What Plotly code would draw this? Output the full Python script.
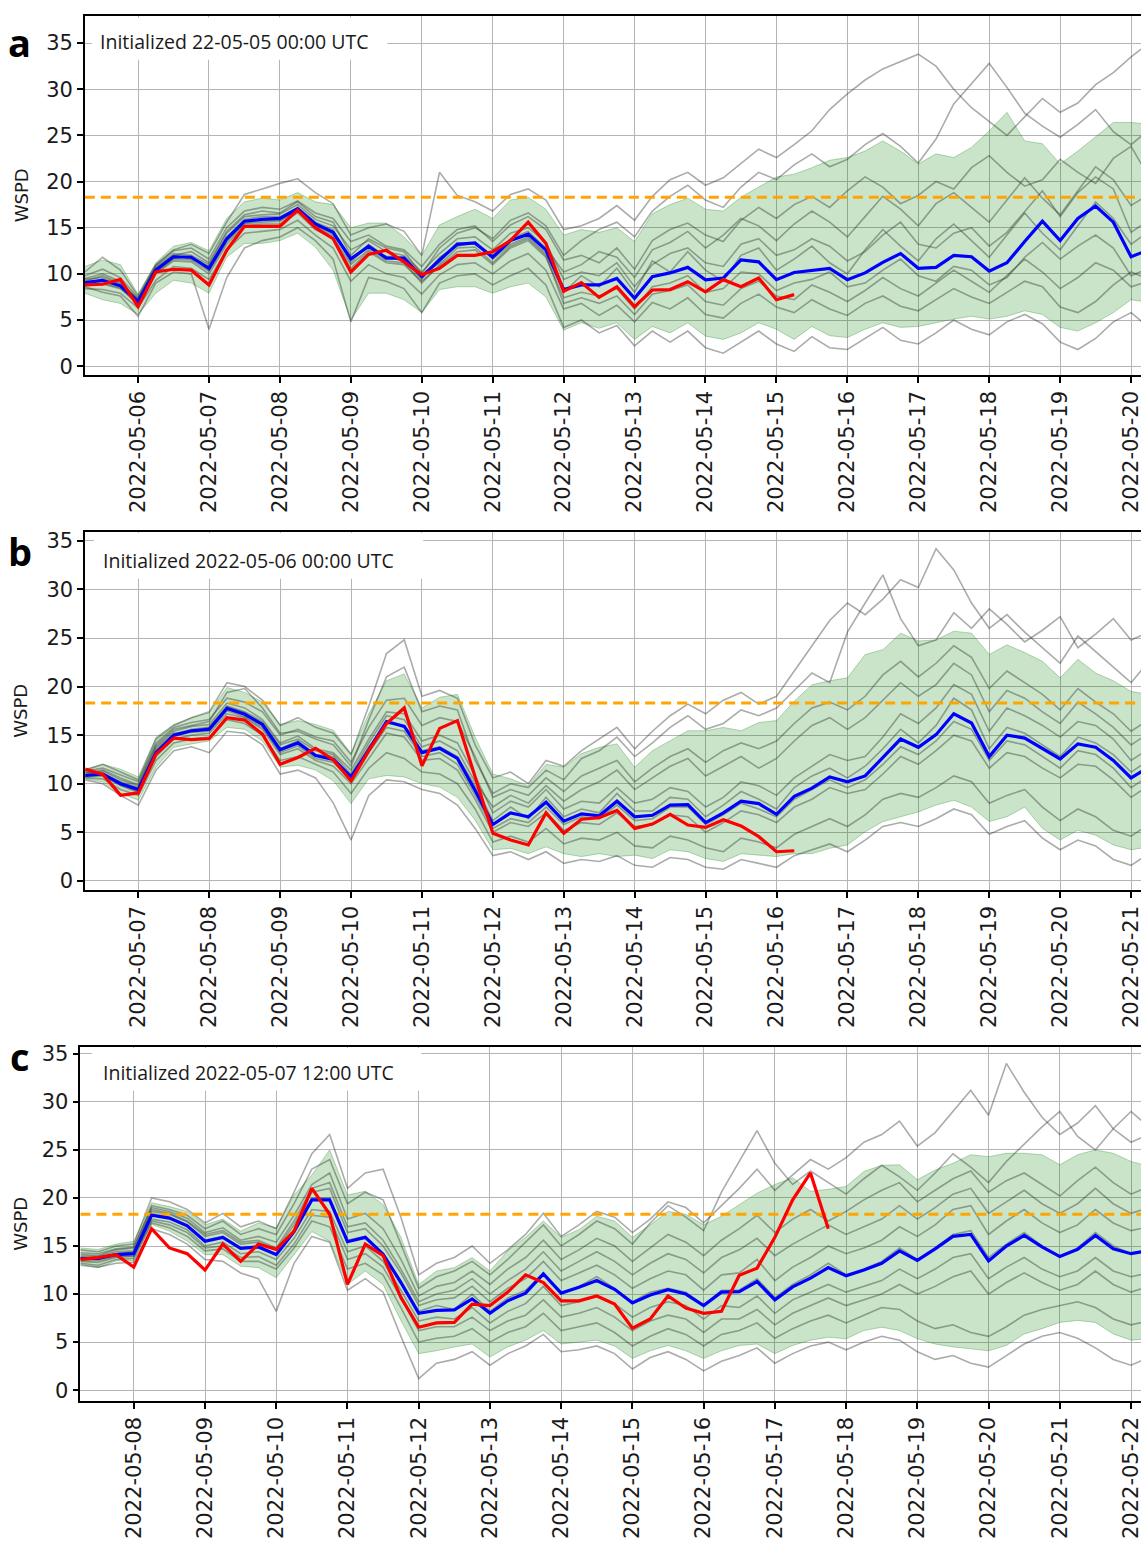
import pandas as pd
import plotly.graph_objects as go

# ---------------- data ----------------
THRESHOLD = 18.3
STEP = "6h"

# ---- panel a : initialized 2022-05-05 00 UTC, series start 05-05 06 UTC
A_START = "2022-05-05 06:00"
A_LABEL = "Initialized 22-05-05 00:00 UTC"
A_MEAN = [9.05, 9.3, 8.7, 7.0, 10.4, 11.85, 11.8, 10.6, 13.8, 15.7, 15.9, 16.0, 17.05, 15.4, 14.5, 11.6, 13.0, 11.7, 11.7, 9.7,
          11.5, 13.2, 13.35, 11.8, 13.6, 14.3, 12.6, 8.3, 8.8, 8.8, 9.5, 7.35, 9.7, 10.1, 10.7, 9.35, 9.55, 11.5, 11.3, 9.37,
          10.15, 10.4, 10.6, 9.37, 10.1, 11.25, 12.2, 10.6, 10.7, 12.0, 11.85, 10.3, 11.2, 13.5, 15.7, 13.6, 16.0, 17.35, 15.6, 11.85, 12.6]
A_OBS = [8.8, 8.87, 9.4, 6.45, 10.2, 10.5, 10.4, 8.8, 12.55, 15.15, 15.15, 15.15, 16.9, 15.0, 13.8, 10.2, 12.1, 12.55, 11.3, 9.9,
         10.6, 12.0, 12.0, 12.4, 13.6, 15.6, 13.3, 8.1, 9.05, 7.45, 8.6, 6.45, 8.25, 8.3, 9.15, 8.05, 9.37, 8.6, 9.55, 7.2, 7.75]
A_HI = [10.8, 11.5, 11.0, 7.8, 11.2, 13.0, 13.4, 12.5, 16.0, 17.8, 18.2, 18.0, 18.8, 17.8, 17.5, 15.0, 15.5, 15.5, 14.0, 12.0,
        15.3, 16.2, 17.0, 16.0, 18.0, 18.3, 17.0, 14.2, 14.8, 14.5, 15.0, 13.5, 16.5, 17.5, 18.2, 17.0, 16.8, 18.3, 19.4, 20.5,
        20.8, 21.5, 22.3, 22.6, 23.3, 24.4, 23.3, 21.9, 23.0, 22.6, 23.7, 25.5, 27.5, 24.4, 24.1, 21.9, 23.3, 24.8, 26.4, 26.4, 26.2]
A_LO = [7.9, 7.2, 6.8, 5.6, 7.9, 9.3, 9.0, 7.9, 11.8, 13.3, 13.3, 13.6, 14.4, 12.9, 10.4, 5.0, 7.9, 7.9, 7.2, 5.8,
        8.3, 8.6, 8.6, 7.9, 8.6, 9.0, 7.5, 3.9, 4.7, 4.1, 4.7, 2.9, 4.3, 3.6, 4.7, 3.25, 2.9, 3.6, 4.7, 4.0,
        2.9, 4.3, 3.3, 3.1, 4.0, 4.7, 4.2, 4.3, 4.7, 5.1, 5.4, 5.1, 5.4, 6.0, 5.6, 4.2, 3.8, 4.7, 5.8, 7.2, 6.9]
A_MEMBERS = [
    [9.8, 10.5, 9.6, 7.4, 10.9, 12.5, 12.8, 11.6, 15.0, 16.8, 17.2, 17.0, 17.9, 16.6, 16.0, 13.5, 14.2, 13.0, 12.6, 10.8, 13.2, 14.8, 15.2, 13.5, 15.3, 16.2, 14.8,
     11.5, 12.0, 11.2, 12.8, 10.5, 13.6, 14.8, 15.5, 14.2, 13.5, 15.8, 17.2, 16.0, 17.5, 18.4, 17.2, 19.0, 20.5, 19.4, 17.6, 18.5, 20.0, 19.2, 21.5, 22.8, 21.0, 19.5, 20.2, 22.4, 21.0, 19.8, 22.5, 23.8, 20.5],
    [8.4, 8.3, 7.9, 6.3, 9.3, 10.8, 10.6, 9.4, 12.6, 14.4, 14.6, 14.8, 15.8, 14.2, 12.8, 9.2, 11.0, 10.0, 9.6, 7.8, 9.9, 11.0, 11.2, 10.0, 11.4, 12.2, 10.4,
     6.2, 6.8, 5.5, 6.6, 4.8, 6.9, 6.2, 7.4, 5.6, 5.2, 6.8, 7.8, 6.4, 5.8, 7.2, 6.2, 5.5, 6.8, 7.6, 6.5, 6.0, 7.2, 8.4, 7.5, 6.8, 8.0, 9.2, 8.6, 6.4, 5.8, 7.0, 8.8, 10.2, 9.4],
    [9.5, 10.0, 9.2, 7.2, 10.8, 12.2, 12.0, 11.0, 14.4, 16.2, 16.4, 16.5, 17.5, 15.9, 15.2, 12.6, 13.6, 12.4, 12.0, 10.2, 12.2, 13.8, 14.0, 12.6, 14.4, 15.0, 13.4,
     9.4, 10.2, 9.8, 11.2, 8.6, 11.0, 12.2, 12.8, 11.2, 10.8, 13.2, 13.8, 12.0, 12.6, 13.8, 13.0, 11.4, 12.4, 14.2, 15.6, 13.2, 12.8, 14.4, 15.0, 13.0, 14.5, 16.8, 19.0, 16.2, 18.8, 20.5, 19.2, 14.5, 15.8],
    [8.8, 8.9, 8.4, 6.7, 10.0, 11.4, 11.3, 10.0, 13.2, 15.2, 15.4, 15.4, 16.6, 14.8, 13.8, 10.6, 12.4, 11.2, 11.0, 9.2, 10.8, 12.4, 12.6, 11.0, 12.8, 13.6, 11.8,
     7.4, 8.0, 7.6, 8.4, 6.2, 8.6, 9.0, 9.8, 8.0, 8.4, 10.2, 10.0, 8.2, 9.0, 9.4, 10.2, 8.6, 9.0, 10.4, 11.6, 9.8, 9.2, 10.8, 10.4, 8.8, 9.6, 11.8, 13.4, 11.6, 13.0, 14.2, 12.8, 9.8, 10.6],
    [10.2, 11.8, 10.4, 7.6, 11.0, 12.6, 13.2, 12.2, 15.6, 18.6, 19.2, 19.8, 20.3, 18.8, 17.6, 14.2, 15.0, 15.4, 14.6, 12.0, 21.0, 18.5, 17.8, 16.8, 18.6, 19.2, 18.0,
     14.8, 15.2, 16.0, 17.4, 15.8, 18.4, 20.2, 21.0, 19.6, 20.4, 22.0, 23.5, 22.6, 24.0, 25.5, 27.8, 29.5, 31.0, 32.2, 33.0, 33.8, 32.5, 30.0, 28.0, 26.5, 25.0, 27.0, 29.0, 27.5, 28.5, 30.5, 31.8, 33.5, 35.0],
    [9.2, 9.8, 9.0, 7.3, 10.6, 12.0, 12.4, 11.2, 14.6, 16.4, 16.8, 16.6, 17.8, 16.2, 15.6, 12.0, 13.8, 12.8, 12.4, 10.0, 12.8, 14.4, 15.0, 13.8, 15.8, 16.6, 15.2,
     12.0, 13.6, 14.8, 15.6, 14.0, 16.8, 18.4, 19.6, 18.0, 17.2, 19.4, 21.0, 20.2, 21.8, 23.0, 21.6, 22.4, 24.0, 25.2, 23.8, 22.0, 24.6, 28.4, 30.6, 32.8, 30.2, 27.4, 26.0, 24.8, 26.2, 27.8, 25.4, 24.0, 25.6],
    [8.6, 8.0, 7.6, 5.4, 9.0, 10.2, 10.0, 4.0, 9.6, 12.8, 13.6, 14.0, 15.0, 13.6, 11.6, 4.8, 9.6, 9.2, 8.4, 5.8, 9.0, 9.8, 10.0, 8.8, 9.8, 10.6, 8.8,
     4.2, 5.0, 3.6, 4.4, 2.2, 3.8, 2.6, 3.8, 2.0, 1.4, 2.6, 3.8, 2.4, 1.6, 3.2, 2.0, 1.8, 3.0, 4.2, 2.8, 2.4, 3.6, 5.0, 4.0, 3.4, 4.8, 5.6, 4.6, 2.6, 1.8, 3.0, 4.8, 5.8, 4.2],
    [9.4, 9.6, 8.9, 7.1, 10.6, 12.0, 11.6, 10.8, 14.0, 15.9, 16.2, 16.2, 17.2, 15.6, 14.8, 11.2, 13.2, 11.8, 11.4, 9.4, 11.8, 13.0, 13.4, 11.6, 13.2, 14.0, 12.2,
     8.0, 9.8, 8.6, 10.6, 8.0, 11.4, 10.2, 12.4, 10.4, 9.2, 12.0, 12.8, 10.4, 11.6, 13.0, 11.2, 10.0, 12.6, 14.8, 13.0, 11.4, 13.8, 15.4, 13.6, 11.8, 14.2, 16.6, 14.4, 12.6, 15.2, 17.8, 16.0, 13.2, 14.6],
    [9.0, 9.4, 8.6, 6.9, 10.3, 11.7, 11.9, 10.4, 13.6, 15.5, 15.8, 15.8, 16.9, 15.2, 14.2, 11.8, 12.8, 11.9, 11.8, 9.8, 11.2, 13.4, 13.2, 12.0, 13.8, 14.6, 12.8,
     10.2, 11.0, 12.4, 11.8, 9.6, 12.6, 13.4, 14.6, 12.8, 14.2, 16.0, 15.2, 13.6, 15.4, 16.8, 15.6, 14.0, 16.2, 18.4, 17.0, 15.2, 17.6, 18.8, 17.2, 15.6, 18.0, 20.4, 18.2, 16.4, 19.0, 21.6, 20.2, 17.4, 18.6],
    [8.9, 9.0, 8.5, 6.8, 10.1, 11.6, 11.5, 10.3, 13.5, 15.4, 15.6, 15.7, 16.8, 15.0, 14.0, 11.0, 12.6, 11.4, 11.2, 9.0, 11.0, 12.8, 12.9, 11.2, 13.0, 13.8, 12.0,
     6.8, 7.4, 6.8, 7.6, 5.6, 7.8, 8.2, 8.8, 7.0, 6.6, 8.4, 9.2, 7.6, 7.2, 8.8, 8.0, 7.0, 8.2, 9.6, 8.4, 7.6, 9.0, 10.4, 9.2, 8.0, 9.8, 11.6, 10.2, 8.4, 9.6, 11.2, 10.4, 8.6, 9.2],
]

# ---- panel b : initialized 2022-05-06 00 UTC
B_START = "2022-05-06 06:00"
B_LABEL = "Initialized 2022-05-06 00:00 UTC"
B_MEAN = [10.85, 11.0, 10.0, 9.4, 13.2, 15.0, 15.45, 15.6, 17.75, 17.15, 16.1, 13.5, 14.2, 12.9, 12.5, 10.7, 13.5, 16.4, 15.9, 13.2,
          13.65, 12.6, 9.3, 5.8, 7.0, 6.6, 8.1, 6.15, 6.9, 6.7, 8.2, 6.6, 6.75, 7.8, 7.85, 6.0, 7.0, 8.2, 7.95, 6.85,
          8.7, 9.55, 10.7, 10.2, 10.8, 12.65, 14.6, 13.75, 15.05, 17.2, 16.25, 12.8, 15.0, 14.7, 13.6, 12.55, 14.1, 13.75, 12.4, 10.6, 11.7]
B_OBS = [11.5, 10.95, 8.8, 9.05, 13.05, 14.7, 14.55, 14.65, 16.8, 16.55, 15.1, 12.0, 12.7, 13.65, 12.45, 10.3, 13.4, 16.2, 17.8, 11.85,
         15.7, 16.5, 10.7, 4.9, 4.2, 3.7, 7.0, 4.9, 6.35, 6.5, 7.25, 5.4, 5.85, 6.85, 5.75, 5.5, 6.3, 5.65, 4.55, 3.0, 3.1]
B_HI = [11.5, 12.0, 11.5, 10.7, 14.8, 16.1, 16.8, 17.3, 19.9, 19.4, 18.4, 16.1, 16.5, 16.1, 15.5, 13.1, 17.2, 20.6, 21.3, 17.8,
        18.9, 19.2, 14.8, 11.0, 10.5, 9.8, 12.0, 11.7, 13.1, 13.75, 14.1, 11.7, 13.4, 14.4, 15.45, 15.45, 15.8, 15.45, 16.3, 16.5,
        18.5, 20.2, 20.6, 20.9, 23.3, 23.8, 25.5, 24.7, 24.8, 25.7, 25.5, 23.3, 24.3, 23.5, 22.6, 20.9, 22.8, 21.4, 20.6, 19.5, 19.2]
B_LO = [10.5, 10.2, 9.0, 8.3, 11.7, 13.75, 14.1, 14.4, 15.8, 15.6, 14.4, 11.7, 11.9, 11.4, 10.3, 7.95, 10.5, 10.85, 10.7, 10.0,
        9.65, 8.6, 6.25, 3.2, 3.35, 2.8, 3.5, 2.8, 2.5, 2.8, 2.5, 2.65, 2.3, 3.2, 3.0, 2.3, 2.0, 2.8, 2.65, 2.5,
        2.8, 2.8, 3.35, 3.7, 5.05, 6.1, 6.6, 7.1, 7.8, 8.3, 7.6, 6.1, 6.6, 7.6, 5.4, 4.2, 5.2, 4.7, 3.7, 3.2, 3.5]
B_MEMBERS = [
    [11.3, 11.6, 10.9, 10.2, 14.2, 15.8, 16.3, 16.6, 18.8, 18.4, 17.4, 15.0, 15.6, 14.8, 14.4, 12.2, 15.8, 18.6, 18.8, 16.0, 16.8, 16.4, 12.8,
     8.6, 9.4, 8.8, 10.6, 9.2, 10.8, 11.6, 12.4, 10.2, 11.6, 12.8, 13.6, 12.2, 13.4, 14.2, 13.6, 14.4, 16.2, 17.8, 18.4, 17.6, 19.0, 21.2, 22.6, 21.0, 22.4, 24.2, 23.0, 19.8, 21.6, 20.4, 19.2, 17.6, 19.8, 18.4, 17.2, 15.4, 16.6],
    [10.6, 10.5, 9.4, 8.8, 12.4, 14.2, 14.6, 14.8, 16.6, 16.2, 15.0, 12.4, 12.8, 12.0, 11.2, 9.0, 11.6, 13.2, 12.6, 11.2, 11.0, 10.0, 7.4,
     4.0, 4.6, 4.0, 5.4, 3.8, 4.4, 4.2, 5.0, 3.6, 3.4, 4.6, 4.2, 3.4, 3.0, 4.4, 4.0, 3.4, 4.8, 5.6, 6.4, 5.6, 6.8, 8.4, 9.0, 8.6, 9.6, 10.8, 10.2, 8.0, 8.8, 9.4, 7.6, 6.2, 7.4, 6.6, 5.2, 4.6, 5.8],
    [11.0, 11.3, 10.4, 9.8, 13.8, 15.4, 15.9, 16.1, 18.3, 17.8, 16.6, 14.2, 14.9, 13.6, 13.2, 11.4, 14.6, 17.4, 17.2, 14.4, 15.0, 14.2, 10.8,
     7.0, 8.2, 7.6, 9.4, 7.4, 8.2, 8.0, 9.6, 8.0, 8.4, 9.6, 9.2, 7.6, 8.6, 10.2, 9.8, 8.8, 10.6, 11.8, 13.0, 12.4, 12.8, 14.8, 17.2, 16.2, 17.8, 20.2, 19.2, 15.4, 17.8, 17.0, 16.0, 14.8, 16.4, 16.0, 14.6, 12.4, 13.6],
    [10.7, 10.8, 9.8, 9.1, 12.8, 14.6, 15.0, 15.2, 17.2, 16.8, 15.6, 13.0, 13.6, 12.4, 11.8, 10.0, 12.6, 15.2, 14.8, 12.4, 12.6, 11.4, 8.4,
     5.0, 6.0, 5.6, 7.0, 5.2, 6.0, 5.8, 7.0, 5.6, 5.8, 6.8, 6.6, 5.0, 6.0, 7.2, 6.8, 6.0, 7.6, 8.4, 9.6, 9.0, 9.4, 11.0, 12.8, 12.0, 13.4, 15.0, 14.4, 11.6, 13.2, 12.8, 11.6, 10.6, 12.0, 11.8, 10.4, 8.6, 9.8],
    [11.4, 12.0, 11.2, 10.4, 14.6, 16.0, 16.8, 17.4, 20.4, 20.0, 18.6, 16.0, 16.8, 15.8, 15.2, 13.0, 18.0, 23.4, 24.8, 19.0, 19.6, 18.8, 14.0,
     10.6, 11.2, 10.0, 12.4, 11.8, 13.4, 14.6, 15.8, 13.6, 15.4, 17.0, 18.2, 17.2, 18.6, 19.4, 18.2, 19.0, 21.6, 24.2, 26.8, 28.6, 27.4, 29.0, 31.0, 30.2, 34.2, 32.0, 28.6, 26.0, 27.4, 25.6, 24.0, 22.4, 25.2, 23.6, 22.0, 20.4, 22.6],
    [11.1, 11.4, 10.6, 9.9, 14.0, 15.6, 16.0, 16.4, 19.4, 19.8, 17.8, 15.2, 15.4, 14.6, 14.0, 11.8, 16.6, 21.0, 22.0, 17.4, 18.0, 17.6, 12.4,
     9.0, 10.0, 9.6, 11.4, 10.4, 12.6, 13.4, 14.8, 12.8, 14.2, 15.8, 17.0, 15.6, 16.2, 17.6, 17.0, 17.8, 19.6, 21.4, 20.4, 25.6, 28.6, 31.5, 27.0, 24.2, 24.8, 27.6, 26.0, 28.0, 26.4, 24.6, 25.8, 27.2, 24.0, 25.4, 27.0, 24.8, 25.6],
    [10.4, 10.0, 8.8, 7.8, 11.4, 13.4, 13.8, 13.2, 15.4, 15.2, 14.0, 11.0, 11.4, 10.6, 8.0, 4.2, 8.8, 10.4, 10.2, 9.4, 9.0, 7.8, 5.4,
     2.6, 3.0, 2.2, 3.0, 1.8, 2.2, 2.0, 2.6, 1.6, 1.4, 2.4, 2.2, 1.4, 1.2, 2.2, 1.8, 1.4, 2.6, 3.2, 3.8, 3.0, 4.2, 5.6, 6.0, 5.6, 6.4, 7.4, 6.8, 4.8, 5.6, 6.2, 4.4, 3.2, 4.2, 3.6, 2.2, 1.6, 2.8],
    [10.9, 11.1, 10.1, 9.5, 13.4, 15.1, 15.6, 15.8, 17.9, 17.3, 16.2, 13.6, 14.4, 13.0, 12.8, 10.6, 13.8, 16.2, 16.0, 13.4, 13.8, 12.8, 9.8,
     6.2, 7.6, 6.4, 8.6, 6.6, 7.4, 7.0, 9.0, 7.2, 7.2, 8.6, 8.4, 6.6, 7.8, 9.2, 8.4, 7.4, 9.6, 10.8, 11.6, 10.6, 11.8, 13.6, 15.6, 14.2, 16.0, 18.8, 17.6, 13.6, 15.8, 15.2, 14.0, 12.8, 14.8, 14.2, 13.0, 11.2, 12.4],
    [11.2, 11.0, 10.2, 9.6, 13.6, 15.2, 15.4, 15.8, 18.0, 17.4, 16.4, 14.0, 14.6, 13.4, 13.0, 11.0, 14.2, 17.0, 16.6, 13.8, 14.4, 13.4, 10.2,
     7.6, 8.8, 8.0, 9.8, 8.2, 9.4, 10.2, 11.4, 9.4, 10.6, 11.8, 12.6, 10.8, 11.8, 12.8, 11.6, 12.6, 14.4, 16.0, 16.8, 15.6, 16.8, 18.6, 20.4, 19.0, 20.2, 22.4, 21.2, 17.4, 19.6, 18.8, 17.4, 16.2, 18.4, 17.2, 15.8, 14.0, 15.2],
    [10.8, 10.9, 9.9, 9.2, 13.0, 14.9, 15.3, 15.4, 17.5, 16.9, 15.8, 13.2, 13.9, 12.6, 12.2, 10.4, 13.2, 15.8, 15.4, 12.8, 13.2, 12.0, 8.8,
     5.4, 6.4, 6.0, 7.6, 5.8, 6.6, 6.4, 7.8, 6.2, 6.4, 7.6, 7.6, 5.8, 6.8, 8.0, 7.4, 6.6, 8.4, 9.4, 10.4, 9.6, 10.4, 12.0, 13.8, 13.0, 14.4, 16.4, 15.6, 12.4, 14.4, 14.0, 12.8, 11.6, 13.4, 13.0, 11.6, 9.6, 10.8],
]

# ---- panel c : initialized 2022-05-07 12 UTC
C_START = "2022-05-07 06:00"
C_LABEL = "Initialized 2022-05-07 12:00 UTC"
C_MEAN = [13.7, 13.7, 14.1, 14.2, 18.2, 17.9, 17.1, 15.5, 15.9, 14.75, 14.9, 14.1, 16.5, 19.8, 19.8, 15.45, 15.9, 14.15, 11.2, 8.0,
          8.3, 8.35, 9.5, 8.0, 9.3, 10.1, 12.1, 10.1, 10.7, 11.4, 10.5, 9.07, 9.9, 10.45, 10.0, 8.8, 10.2, 10.25, 11.3, 9.4,
          10.75, 11.65, 12.75, 11.9, 12.5, 13.2, 14.5, 13.5, 14.7, 16.0, 16.2, 13.45, 15.0, 16.1, 14.9, 13.9, 14.65, 16.1, 14.7, 14.2, 14.55]
C_OBS = [13.6, 13.8, 14.1, 12.8, 16.8, 14.8, 14.2, 12.5, 15.2, 13.4, 15.2, 14.65, 16.55, 21.0, 18.3, 11.0, 15.2, 14.0, 9.65, 6.55,
         7.0, 7.05, 8.95, 8.8, 10.2, 12.0, 11.2, 9.3, 9.3, 9.8, 8.95, 6.45, 7.4, 9.8, 8.55, 8.0, 8.2, 11.95, 12.7, 15.9,
         19.8, 22.6, 16.8]
C_HI = [14.8, 14.65, 15.2, 15.5, 19.5, 19.1, 18.6, 17.2, 17.8, 16.55, 17.4, 16.9, 20.3, 22.4, 25.0, 20.3, 20.7, 19.3, 15.9, 11.0,
        12.4, 12.75, 13.8, 12.4, 14.5, 15.9, 17.6, 15.9, 16.7, 18.1, 17.6, 15.9, 17.2, 18.6, 18.3, 17.2, 18.1, 19.3, 20.5, 21.4,
        22.1, 20.7, 20.9, 21.2, 22.75, 23.4, 23.45, 21.9, 22.9, 23.6, 24.5, 24.3, 24.65, 24.65, 24.5, 23.45, 24.5, 25.0, 24.65, 23.8, 23.3]
C_LO = [13.1, 12.75, 13.45, 13.45, 17.25, 16.55, 15.5, 14.1, 14.1, 12.9, 12.75, 11.7, 14.1, 16.5, 15.5, 11.0, 12.4, 11.0, 7.25, 3.8,
        4.1, 4.5, 4.8, 3.45, 4.5, 5.2, 6.2, 4.8, 5.0, 5.2, 4.6, 3.3, 4.1, 4.65, 4.1, 3.3, 4.1, 4.65, 4.8, 3.8,
        4.65, 5.2, 5.5, 5.35, 6.2, 6.55, 6.2, 5.35, 4.8, 4.5, 4.3, 4.1, 4.65, 5.85, 6.4, 7.05, 7.25, 7.05, 5.85, 5.2, 5.35]
C_MEMBERS = [
    [14.3, 14.2, 14.7, 14.9, 19.0, 18.6, 17.9, 16.4, 16.9, 15.6, 16.0, 15.4, 18.2, 21.4, 22.6, 17.8, 18.4, 16.8, 13.6,
     9.8, 10.8, 11.2, 12.4, 11.0, 12.6, 13.8, 15.6, 13.6, 14.6, 15.8, 15.0, 13.4, 14.8, 16.2, 15.4, 14.0, 15.6, 16.8, 18.2, 16.4, 17.8, 18.8, 17.6, 18.6, 19.8, 20.8, 21.6, 19.6, 20.8, 22.0, 22.8, 20.6, 21.8, 22.6, 21.4, 20.2, 21.8, 23.2, 21.6, 20.4, 21.2],
    [13.2, 13.0, 13.6, 13.7, 17.4, 16.9, 16.0, 14.5, 14.7, 13.4, 13.4, 12.6, 14.8, 17.6, 17.0, 12.6, 13.2, 12.0, 8.6,
     5.0, 5.4, 5.6, 6.4, 5.0, 6.0, 6.6, 8.0, 6.2, 6.6, 7.0, 6.0, 4.6, 5.6, 6.4, 5.8, 4.6, 5.8, 6.2, 7.0, 5.4, 6.4, 7.2, 7.8, 7.0, 7.8, 8.6, 8.4, 7.2, 6.4, 6.8, 6.0, 5.6, 6.6, 7.8, 8.4, 8.8, 9.2, 8.6, 7.4, 6.8, 7.2],
    [13.9, 13.9, 14.4, 14.5, 18.6, 18.3, 17.5, 16.0, 16.4, 15.2, 15.4, 14.6, 17.2, 20.6, 21.0, 16.4, 16.8, 15.0, 12.2,
     8.8, 9.4, 9.6, 10.8, 9.2, 10.6, 11.6, 13.4, 11.4, 12.2, 13.0, 12.0, 10.6, 11.6, 12.4, 12.0, 10.4, 12.0, 12.2, 13.6, 11.4, 12.8, 13.8, 15.0, 14.2, 14.8, 15.6, 17.0, 16.0, 17.2, 18.8, 19.2, 16.2, 17.6, 18.8, 17.4, 16.4, 17.2, 18.8, 17.4, 16.6, 17.0],
    [13.5, 13.5, 13.9, 14.0, 17.8, 17.5, 16.7, 15.0, 15.4, 14.2, 14.4, 13.6, 15.8, 18.8, 18.6, 14.4, 15.0, 13.4, 10.4,
     7.2, 7.6, 7.4, 8.6, 7.0, 8.2, 9.0, 10.8, 8.8, 9.2, 9.8, 9.0, 7.6, 8.6, 9.2, 8.8, 7.4, 8.8, 8.6, 9.8, 8.0, 9.4, 10.2, 11.0, 10.2, 10.8, 11.4, 12.6, 11.6, 12.6, 13.8, 14.2, 11.6, 12.8, 13.8, 12.6, 11.8, 12.4, 13.8, 12.4, 11.8, 12.2],
    [14.6, 14.4, 15.0, 15.2, 20.0, 19.6, 18.8, 17.4, 18.4, 17.0, 17.6, 16.8, 20.6, 24.6, 26.6, 21.0, 22.6, 23.0, 18.0,
     12.0, 13.2, 13.8, 15.0, 13.2, 14.6, 16.2, 18.4, 16.0, 17.2, 18.6, 18.0, 16.4, 17.8, 19.6, 19.0, 17.4, 19.2, 21.0, 23.0, 20.8, 22.4, 24.0, 23.0, 24.2, 25.8, 26.6, 28.0, 25.4, 26.8, 29.0, 31.2, 28.6, 34.0, 31.0, 28.4, 26.6, 27.8, 29.6, 27.2, 25.8, 26.6],
    [14.1, 14.0, 14.6, 14.8, 19.2, 18.8, 18.2, 16.8, 17.6, 16.2, 16.8, 16.2, 19.4, 23.0, 24.0, 19.4, 20.6, 19.8, 15.2,
     10.6, 11.8, 12.4, 13.4, 12.0, 13.6, 15.4, 17.2, 15.0, 16.2, 17.6, 16.8, 15.2, 17.4, 19.2, 18.0, 16.6, 20.6, 23.8, 27.0, 23.6, 21.4, 22.8, 21.6, 20.4, 22.0, 23.4, 22.2, 20.8, 22.6, 24.6, 23.2, 21.6, 23.8, 25.6, 27.4, 29.0, 26.4, 25.0, 27.2, 29.0, 27.4],
    [13.0, 12.8, 13.2, 13.3, 16.8, 16.2, 15.2, 13.6, 13.4, 12.2, 11.6, 8.2, 13.2, 16.0, 15.4, 10.4, 11.6, 10.2, 5.6,
     1.2, 2.8, 3.2, 4.0, 2.6, 3.8, 4.6, 5.8, 4.0, 4.2, 4.6, 3.8, 2.2, 3.4, 4.0, 3.2, 2.0, 3.0, 3.6, 4.4, 2.8, 3.8, 4.6, 5.0, 4.2, 5.0, 5.6, 5.2, 4.0, 3.2, 3.6, 2.8, 2.4, 3.6, 4.8, 5.6, 6.0, 5.4, 4.4, 3.2, 2.6, 3.4],
    [13.7, 13.6, 14.2, 14.3, 18.4, 18.0, 17.2, 15.6, 16.0, 14.8, 15.0, 14.2, 16.6, 20.0, 20.0, 15.6, 16.0, 14.2, 11.4,
     8.2, 8.8, 8.4, 10.0, 8.2, 9.6, 10.4, 12.2, 10.0, 10.8, 11.8, 10.6, 9.2, 10.2, 10.6, 10.2, 8.8, 10.4, 10.4, 11.6, 9.6, 11.0, 12.0, 13.2, 12.0, 12.6, 13.4, 14.8, 13.6, 14.8, 16.2, 16.6, 13.8, 15.2, 16.4, 15.0, 14.0, 14.8, 16.4, 15.0, 14.2, 14.6],
    [13.8, 13.8, 14.2, 14.4, 18.8, 18.4, 17.6, 16.2, 16.6, 15.4, 15.6, 14.8, 17.6, 21.0, 21.6, 17.0, 17.4, 15.6, 12.6,
     9.2, 10.0, 10.4, 11.6, 10.0, 11.4, 12.6, 14.4, 12.4, 13.4, 14.4, 13.4, 12.0, 13.2, 14.2, 13.6, 12.2, 13.8, 14.6, 15.8, 14.0, 15.2, 16.2, 17.2, 16.2, 17.0, 17.8, 19.2, 17.8, 19.0, 20.4, 21.0, 18.4, 19.6, 20.8, 19.4, 18.4, 19.4, 21.0, 19.4, 18.4, 19.0],
    [13.4, 13.3, 13.8, 13.9, 17.6, 17.2, 16.4, 14.8, 15.0, 13.8, 13.9, 13.0, 15.2, 18.2, 18.0, 13.6, 14.2, 12.8, 9.6,
     6.2, 6.6, 6.6, 7.6, 6.2, 7.2, 7.8, 9.4, 7.6, 8.0, 8.6, 7.6, 6.2, 7.2, 7.8, 7.4, 6.0, 7.4, 7.4, 8.4, 6.8, 8.0, 8.8, 9.6, 8.8, 9.4, 10.0, 11.0, 10.0, 10.8, 11.8, 12.4, 10.0, 11.2, 12.2, 11.2, 10.4, 11.0, 12.4, 11.0, 10.2, 10.8],
]

Y_TICKS = [0, 5, 10, 15, 20, 25, 30, 35]
PANEL_LETTERS = ["a", "b", "c"]

# ---------------- layout geometry (pixels) ----------------
W, H = 1143, 1545
DAYS_VISIBLE = 14.89
GEOM = [
    dict(left=85.0, top=11.0, bottom=372.0, yr=[-0.94, 37.94], letter_y=37, label_x=98, label_y=37, box=(92, 12.5, 388, 55)),
    dict(left=85.3, top=530.0, bottom=890.0, yr=[-0.92, 35.92], letter_y=549, label_x=101, label_y=559, box=(94, 531, 424, 577)),
    dict(left=80.5, top=1048.0, bottom=1404.0, yr=[-1.11, 35.72], letter_y=1057, label_x=101, label_y=1074, box=(92, 1049, 422, 1092)),
]

PANELS = [
    dict(start=A_START, label=A_LABEL, mean=A_MEAN, obs=A_OBS, lo=A_LO, hi=A_HI, members=A_MEMBERS),
    dict(start=B_START, label=B_LABEL, mean=B_MEAN, obs=B_OBS, lo=B_LO, hi=B_HI, members=B_MEMBERS),
    dict(start=C_START, label=C_LABEL, mean=C_MEAN, obs=C_OBS, lo=C_LO, hi=C_HI, members=C_MEMBERS),
]

TICK_FONT = dict(family="DejaVu Sans", size=21, color="#1a1a1a")

fig = go.Figure()
shapes = []
annotations = []


def px_x(p):
    return p / W


def px_y(p):
    return 1 - p / H


for i, (p, g) in enumerate(zip(PANELS, GEOM)):
    n = i + 1
    xa = "x" if n == 1 else f"x{n}"
    ya = "y" if n == 1 else f"y{n}"
    t = lambda vals: pd.date_range(p["start"], periods=len(vals), freq=STEP)

    # green spread band
    fig.add_trace(go.Scatter(x=t(p["lo"]), y=p["lo"], mode="lines",
                             line=dict(color="rgba(0,120,0,0.35)", width=0.8),
                             xaxis=xa, yaxis=ya, showlegend=False, hoverinfo="skip"))
    fig.add_trace(go.Scatter(x=t(p["hi"]), y=p["hi"], mode="lines", fill="tonexty",
                             fillcolor="rgba(0,128,0,0.21)",
                             line=dict(color="rgba(0,120,0,0.35)", width=0.8),
                             xaxis=xa, yaxis=ya, showlegend=False, hoverinfo="skip"))
    # ensemble members
    for m in p["members"]:
        fig.add_trace(go.Scatter(x=t(m), y=m, mode="lines",
                                 line=dict(color="rgba(40,48,40,0.40)", width=1.6),
                                 xaxis=xa, yaxis=ya, showlegend=False, hoverinfo="skip"))
    # threshold
    tm = t(p["mean"])
    fig.add_trace(go.Scatter(x=[tm[0], tm[-1]], y=[THRESHOLD, THRESHOLD], mode="lines",
                             line=dict(color="#FFA500", width=3, dash="10px,6px"),
                             xaxis=xa, yaxis=ya, showlegend=False, hoverinfo="skip"))
    # ensemble mean
    fig.add_trace(go.Scatter(x=tm, y=p["mean"], mode="lines",
                             line=dict(color="#0000FF", width=3.2),
                             xaxis=xa, yaxis=ya, showlegend=False))
    # observation
    fig.add_trace(go.Scatter(x=t(p["obs"]), y=p["obs"], mode="lines",
                             line=dict(color="#FF0000", width=3.2),
                             xaxis=xa, yaxis=ya, showlegend=False))

    x0 = pd.Timestamp(p["start"])
    x1 = x0 + pd.Timedelta(days=DAYS_VISIBLE)
    xdom = [px_x(g["left"]), 1.0]
    ydom = [px_y(g["bottom"]), px_y(g["top"])]

    fig.update_layout(**{
        ("xaxis" if n == 1 else f"xaxis{n}"): dict(
            domain=xdom, anchor=ya, range=[x0, x1], type="date",
            tickformat="%Y-%m-%d", dtick=86400000, tick0="2022-05-01",
            tickangle=-90, tickfont=TICK_FONT, ticks="outside", ticklen=6,
            tickwidth=1.5, tickcolor="black", showgrid=True, gridcolor="#b4b4b4",
            gridwidth=1.2, showline=True, linecolor="black", linewidth=1.5,
            mirror=True, zeroline=False, fixedrange=True, ticklabeloverflow="allow"),
        ("yaxis" if n == 1 else f"yaxis{n}"): dict(
            domain=ydom, anchor=xa, range=g["yr"], tickvals=Y_TICKS,
            tickfont=TICK_FONT, ticks="outside", ticklen=6, tickwidth=1.5,
            tickcolor="black", showgrid=True, gridcolor="#b4b4b4", gridwidth=1.2,
            showline=True, linecolor="black", linewidth=1.5, zeroline=False,
            fixedrange=True),
    })

    bx0, by0, bx1, by1 = g["box"]
    shapes.append(dict(type="rect", xref="paper", yref="paper",
                       x0=px_x(bx0), x1=px_x(bx1), y0=px_y(by1), y1=px_y(by0),
                       fillcolor="white", line=dict(width=0), layer="above"))
    annotations.append(dict(text=p["label"], xref="paper", yref="paper",
                            x=px_x(g["label_x"]), y=px_y(g["label_y"]),
                            xanchor="left", yanchor="middle", showarrow=False,
                            font=dict(family="Open Sans", size=19.5, color="#1a1a1a")))
    annotations.append(dict(text=f"<b>{PANEL_LETTERS[i]}</b>", xref="paper", yref="paper",
                            x=px_x(20), y=px_y(g["letter_y"]), xanchor="center",
                            yanchor="middle", showarrow=False,
                            font=dict(family="Open Sans", size=38, color="black")))
    annotations.append(dict(text="WSPD", xref="paper", yref="paper",
                            x=px_x(21), y=px_y((g["top"] + g["bottom"]) / 2),
                            xanchor="center", yanchor="middle", textangle=-90,
                            showarrow=False,
                            font=dict(family="DejaVu Sans", size=18, color="#1a1a1a")))

fig.update_layout(width=W, height=H, margin=dict(l=0, r=0, t=0, b=0),
                  paper_bgcolor="white", plot_bgcolor="white",
                  shapes=shapes, annotations=annotations, showlegend=False)

fig.write_html("out.html", config={"displayModeBar": False},
               post_script="document.body.style.margin='0';document.body.style.overflow='hidden';")
